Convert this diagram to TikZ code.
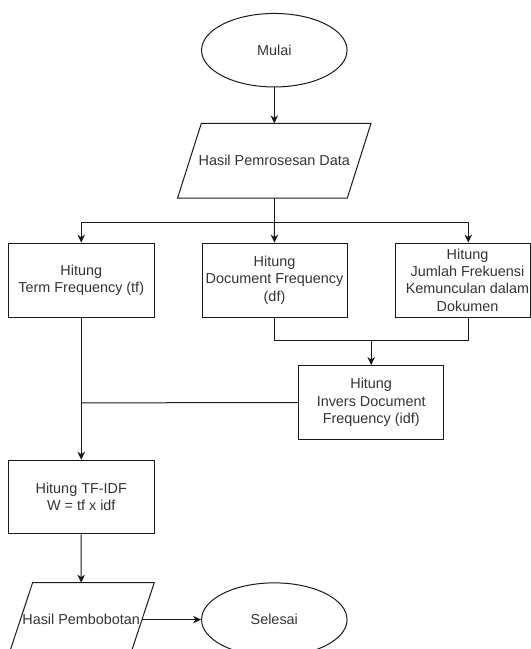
\documentclass[tikz,border=0pt]{standalone}
\usepackage{fontspec}
\setmainfont{Liberation Sans}
\usetikzlibrary{shapes.geometric,arrows.meta,calc}
\begin{document}
\begin{tikzpicture}[x=1pt,y=1pt,
  every node/.style={font=\fontsize{14.4}{17.3}\selectfont, text=black!80},
  line/.style={draw=black!90, line width=1pt},
  arr/.style={line, -{Stealth[length=8pt,width=7.5pt,inset=2.5pt]}},
  oval/.style={ellipse, draw=black!90, line width=1pt, minimum width=145.5, minimum height=73.5, inner sep=0pt},
  procbox/.style={rectangle, draw=black!90, line width=1pt, minimum height=74, inner sep=0pt, align=center},
  iobox/.style={inner sep=0pt, align=center}
]
\useasboundingbox (0,0) rectangle (531,-649);

% start / end
\node[oval] (mulai) at (274.3,-50.2) {Mulai};
\node[oval] (selesai) at (274.3,-619.6) {Selesai};

% input parallelogram
\node[iobox, minimum width=193, minimum height=74.2] (data) at (274.3,-160.7) {Hasil Pemrosesan Data};
\draw[line] ($(data.north west)+(23.7,0)$) -- (data.north east) -- ($(data.south east)+(-23.7,0)$) -- (data.south west) -- cycle;

% process boxes
\node[procbox, minimum width=145.5] (tf) at (81.25,-280.1) {Hitung\\Term Frequency (tf)};
\node[procbox, minimum width=145] (df) at (274.5,-280.1) {Hitung\\Document Frequency\\(df)};
\node[procbox, minimum width=135] (jml) at (462.5,-280.1) {};
\node[align=center, inner sep=0pt] (jmltxt) at (467.5,-280.1) {Hitung\\Jumlah Frekuensi\\Kemunculan dalam\\Dokumen};
\node[procbox, minimum width=145] (idf) at (371.2,-402.5) {Hitung\\Invers Document\\Frequency (idf)};
\node[procbox, minimum width=145.5, minimum height=73.5] (tfidf) at (81.25,-497) {Hitung TF-IDF\\W = tf x idf};

% output parallelogram
\node[iobox, minimum width=145.7, minimum height=73.5] (bobot) at (81.2,-619.6) {Hasil Pembobotan};
\draw[line] ($(bobot.north west)+(24.5,0)$) -- (bobot.north east) -- ($(bobot.south east)+(-24.5,0)$) -- (bobot.south west) -- cycle;

% helper coordinates
\coordinate (split) at (274.3,-222.5);
\coordinate (jx) at (468.3,-222.5);
\coordinate (merge) at (371.2,-340.9);
\coordinate (join) at (81.25,-402.9);

% connectors
\draw[arr] (mulai.south) -- (data.north);
\draw[line] (data.south) -- (split);
\draw[arr] (split) -| (tf.north);
\draw[arr] (split) -- (df.north);
\draw[arr] (split) -- (jx) -- (jx |- jml.north);
\draw[line] (df.south) |- (merge) -| (jx |- jml.south);
\draw[arr] (merge) -- (idf.north);
\draw[arr] (tf.south) -- (tfidf.north);
\draw[line] (idf.west) -- (join);
\draw[arr] (tfidf.south) -- (bobot.north);
\draw[arr] ([xshift=-12.25]bobot.east) -- (selesai.west);
\end{tikzpicture}
\end{document}
